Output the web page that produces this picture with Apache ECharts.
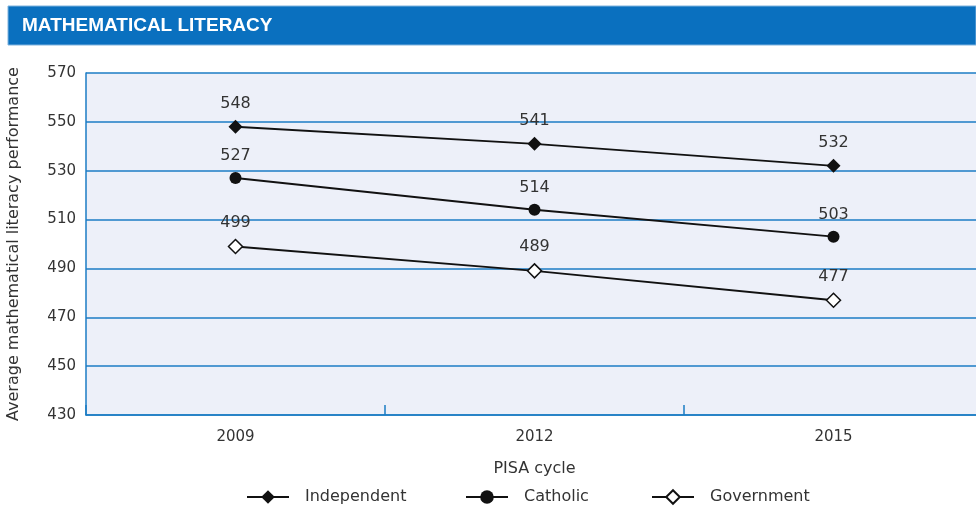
<!DOCTYPE html>
<html>
<head>
<meta charset="utf-8">
<script src="https://cdn.jsdelivr.net/npm/echarts@6/dist/echarts.min.js"></script>
<style>
html,body{margin:0;padding:0;background:#fff;}
#chart{width:976px;height:506px;}
</style>
</head>
<body>
<div id="chart"></div>
<script>
const title = 'MATHEMATICAL LITERACY';
const categories = ['2009', '2012', '2015'];
const seriesNames = ['Independent', 'Catholic', 'Government'];
const independent = [548, 541, 532];
const catholic = [527, 514, 503];
const government = [499, 489, 477];
const yMin = 430, yMax = 570, yStep = 20;

const font = '"DejaVu Sans", sans-serif';
const blue = '#1b7cc4';
const chart = echarts.init(document.getElementById('chart'), null, {renderer: 'canvas'});

function mkSeries(name, data, symbol, size, fill) {
  return {
    name: name, type: 'line', data: data,
    symbol: symbol, symbolSize: size, showAllSymbol: true,
    lineStyle: {color: '#111', width: 1.9},
    itemStyle: {color: fill, borderColor: '#111', borderWidth: fill === '#fff' ? 1.5 : 0},
    label: {show: true, position: 'top', distance: 8, color: '#333', fontSize: 16, fontFamily: font},
    emphasis: {disabled: true},
    z: 5
  };
}

const legendLefts = [241, 460, 646];
const legends = seriesNames.map((n, i) => ({
  top: 484, left: legendLefts[i], itemWidth: 42, itemHeight: 17,
  textStyle: {fontSize: 16, color: '#333', fontFamily: font, padding: [0, 0, 0, 11]},
  data: [n]
}));

chart.setOption({
  animation: false,
  textStyle: {fontFamily: font},
  graphic: [
    {type: 'rect', shape: {x: 8, y: 6, width: 968, height: 39}, style: {fill: '#0a70bf', stroke: '#7fb3de', lineWidth: 1}},
    {type: 'text', left: 22, top: 16, style: {text: title, fill: '#fff', font: 'bold 19px "Liberation Sans", Arial, sans-serif', shadowColor: 'rgba(0,0,0,0.35)', shadowBlur: 2, shadowOffsetX: 1, shadowOffsetY: 1}}
  ],
  grid: {left: 86, top: 73, width: 897, height: 342, show: true, backgroundColor: '#edf0f9', borderWidth: 0, outerBoundsMode: 'none', containLabel: false},
  legend: legends,
  xAxis: {
    type: 'category', data: categories, boundaryGap: true,
    name: 'PISA cycle', nameLocation: 'middle', nameGap: 46,
    nameTextStyle: {fontSize: 16, color: '#333'},
    axisLine: {lineStyle: {color: blue, width: 1.5}},
    axisTick: {show: true, inside: true, length: 10, lineStyle: {color: blue, width: 1.5}},
    axisLabel: {fontSize: 15, color: '#333', margin: 15}
  },
  yAxis: {
    type: 'value', min: yMin, max: yMax, interval: yStep,
    name: 'Average mathematical literacy performance', nameLocation: 'middle', nameGap: 64,
    nameTextStyle: {fontSize: 16, color: '#333'},
    axisLine: {show: true, lineStyle: {color: blue, width: 1.5}},
    axisTick: {show: false},
    axisLabel: {fontSize: 15, color: '#333', margin: 10},
    splitLine: {show: true, lineStyle: {color: blue, width: 1.5}}
  },
  series: [
    mkSeries(seriesNames[0], independent, 'diamond', 14, '#111'),
    mkSeries(seriesNames[1], catholic, 'circle', 12, '#111'),
    mkSeries(seriesNames[2], government, 'diamond', 14, '#fff')
  ]
});
</script>
</body>
</html>
